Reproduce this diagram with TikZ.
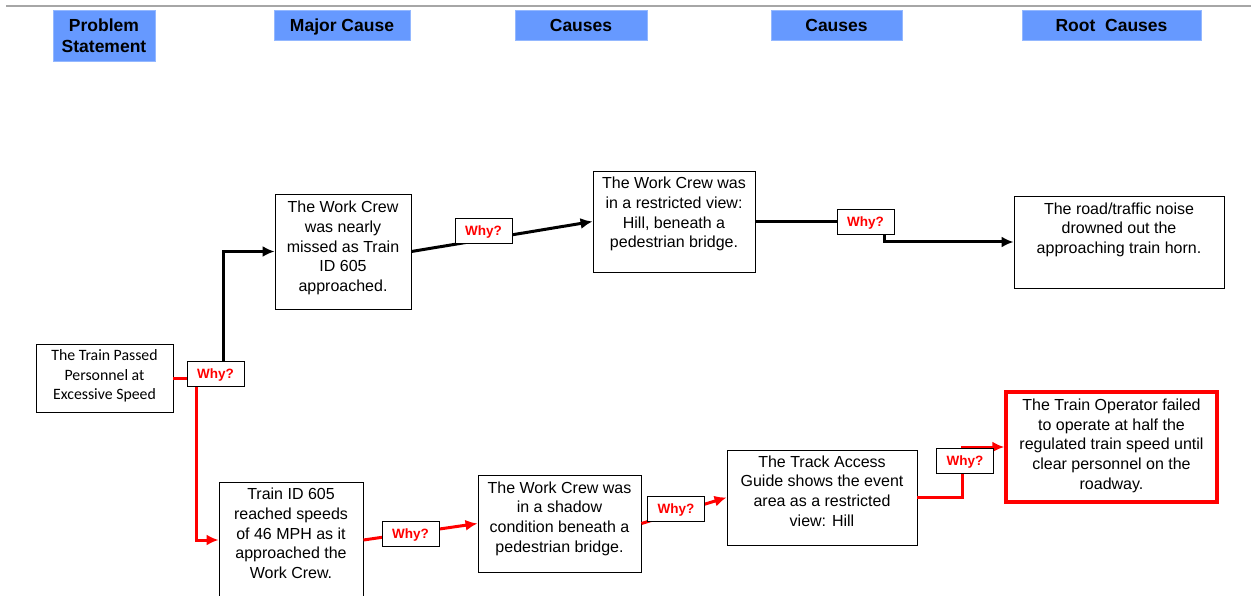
\documentclass[tikz,border=0pt]{standalone}
\usepackage{fontspec}
\setmainfont{Liberation Sans}
\newfontfamily\calfont{Carlito}
\usetikzlibrary{arrows.meta}

\definecolor{hdrblue}{RGB}{102,153,255}
\definecolor{whyred}{RGB}{255,0,0}

\tikzset{
  hdr/.style={fill=hdrblue,draw=hdrblue!70!white,inner sep=0pt,align=center,
    font=\fontsize{17.5}{21}\selectfont\bfseries},
  hdrone/.style={hdr,minimum height=30pt,text height=12.5pt,text depth=0pt},
  box/.style={draw=black,line width=0.9pt,fill=white,inner sep=0pt,align=center,
    font=\fontsize{16}{19.7}\selectfont},
  why/.style={draw=black,line width=0.9pt,fill=white,minimum width=57pt,minimum height=25pt,
    inner sep=0pt,text height=9.7pt,text depth=0pt,text=whyred,
    font=\fontsize{13.5}{15}\selectfont\bfseries},
  blkln/.style={line width=3pt,black},
  redln/.style={line width=3pt,whyred},
  arr/.style={-{Latex[length=12pt,width=11pt]}},
}

\begin{document}
\begin{tikzpicture}[x=1pt,y=-1pt]
\useasboundingbox (0,0) rectangle (1251,596);
\fill[white] (0,0) rectangle (1251,596);
\clip (0,0) rectangle (1251,596);

% Top rule
\draw[gray!70,line width=1.2pt] (6,6) -- (1251,6);

% Column headers
\node[hdr,minimum width=102pt,minimum height=51pt] (hstmt) at (104,35.5) {Problem\\Statement};
\node[hdrone,minimum width=136pt] (hmajor) at (342,25) {Major Cause};
\node[hdrone,minimum width=132pt] (hcause1) at (581,25) {Causes};
\node[hdrone,minimum width=131pt] (hcause2) at (836.5,25) {Causes};
\node[hdrone,minimum width=179pt] (hroot) at (1111.5,25) {Root~~Causes};

% Problem statement
\node[box,minimum width=137pt,minimum height=68pt,text depth=6pt,
  font=\calfont\fontsize{15.8}{19.5}\selectfont] (stmt) at (104.5,378)
  {The Train Passed\\Personnel at\\Excessive Speed};

% Upper branch
\node[box,minimum width=136pt,minimum height=115pt,text depth=10pt] (major1) at (343,251.5)
  {The Work Crew\\was nearly\\missed as Train\\ID 605\\approached.};
\node[box,minimum width=162pt,minimum height=101pt,text depth=18pt] (cause1) at (674,221.5)
  {The Work Crew was\\in a restricted view:\\Hill, beneath a\\pedestrian bridge.};
\node[box,minimum width=210pt,minimum height=92pt,text depth=28pt] (root1) at (1119,242)
  {The road/traffic noise\\drowned out the\\approaching train horn.};

% Lower branch
\node[box,minimum width=144pt,minimum height=116pt,text depth=13pt] (major2) at (291,540)
  {Train ID 605\\reached speeds\\of 46 MPH as it\\approached the\\Work Crew.};
\node[box,minimum width=163pt,minimum height=97pt,text depth=13pt] (cause2) at (559.5,523.5)
  {The Work Crew was\\in a shadow\\condition beneath a\\pedestrian bridge.};
\node[box,minimum width=190pt,minimum height=95pt,text depth=13pt] (cause3) at (822,497.5)
  {The Track Access\\Guide shows the event\\area as a restricted\\view: Hill};
\node[box,draw=whyred,line width=3.5pt,minimum width=211pt,minimum height=110pt,text depth=6pt] (root2) at (1111.5,447)
  {The Train Operator failed\\to operate at half the\\regulated train speed until\\clear personnel on the\\roadway.};

% Connectors
\draw[blkln,arr] (stmt.east) -- ++(50,0) |- (major1.west);
\draw[redln,arr] (stmt.east) -- ++(23,0) |- (major2.west);
\draw[blkln,arr] (major1.east) -- (cause1.west);
\draw[blkln,arr] (cause1.east) -- ++(129,0) |- (root1.west);
\draw[redln,arr] (major2.east) -- (cause2.west);
\draw[redln,arr] (cause2.east) -- (cause3.west);
\draw[redln,arr] (cause3.east) -- ++(45,0) |- (root2.west);

% Why? tags
\node[why] (why1) at (215.5,373.5) {Why?};
\node[why] (why2) at (483.5,230.5) {Why?};
\node[why] (why3) at (865.5,222) {Why?};
\node[why] (why4) at (410.5,533.5) {Why?};
\node[why] (why5) at (676,508.5) {Why?};
\node[why] (why6) at (965,461) {Why?};
\end{tikzpicture}
\end{document}
